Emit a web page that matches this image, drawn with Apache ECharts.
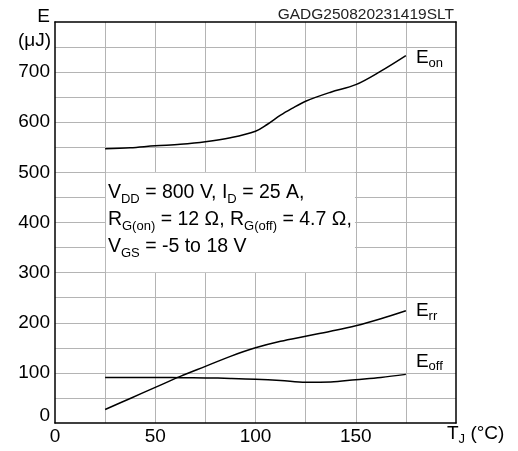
<!DOCTYPE html>
<html>
<head>
<meta charset="utf-8">
<script src="https://cdn.jsdelivr.net/npm/echarts@6/dist/echarts.min.js"></script>
<style>
html,body{margin:0;padding:0;background:#fff;}
#chart{width:518px;height:451px;}
</style>
</head>
<body>
<div id="chart"></div>
<script>
// ---- data ----
const tempsOn = [25, 37.5, 50, 62.5, 75, 87.5, 100, 106, 112.5, 118, 125, 137.5, 150, 162.5, 175];
const eOn     = [547, 549, 553, 556, 561, 569, 582, 596, 614, 627, 642, 660, 675, 702, 733];
const temps   = [25, 37.5, 50, 62.5, 75, 87.5, 100, 112.5, 125, 137.5, 150, 162.5, 175];
const eRr     = [27, 49, 71, 93, 113, 133, 150, 163, 173, 183, 194, 208, 224];
const eOff    = [91, 91, 91, 90.5, 90, 89, 87.5, 85, 81.5, 82, 86.5, 91, 97];
const xTicks  = [0, 50, 100, 150];
const yTicks  = [0, 100, 200, 300, 400, 500, 600, 700];
const noteBox = [[25, 500], [150, 300]];
const code    = 'GADG250820231419SLT';

const FONT = 'Liberation Sans, Arial, sans-serif';
const pair = (xs, ys) => xs.map((x, i) => [x, ys[i]]);

const chart = echarts.init(document.getElementById('chart'), null, {renderer: 'canvas'});

const subRich = {
  e: {fontSize: 19, fontFamily: FONT, color: '#000', lineHeight: 24},
  s: {fontSize: 13, fontFamily: FONT, color: '#000', verticalAlign: 'bottom', lineHeight: 14}
};

const boxRich = {
  m: {fontSize: 19.5, fontFamily: FONT, color: '#000', lineHeight: 27},
  s: {fontSize: 13, fontFamily: FONT, color: '#000', verticalAlign: 'bottom', lineHeight: 14}
};

const lineSeries = (name, data, sub, off) => ({
  name, type: 'line', data, smooth: 0.35, symbol: 'none',
  lineStyle: {color: '#000', width: 1.5},
  itemStyle: {color: '#000'},
  endLabel: {
    show: true, distance: 10, offset: off,
    formatter: '{e|E}{s|' + sub + '}', rich: subRich
  },
  z: 5
});

const option = {
  animation: false,
  backgroundColor: '#fff',
  grid: {left: 55, top: 22, right: 62, bottom: 28, containLabel: false},
  xAxis: [{
    type: 'value', min: 0, max: 200, interval: 25,
    axisLine: {show: true, onZero: false, lineStyle: {color: '#000', width: 1.5}},
    axisTick: {show: false},
    splitLine: {show: true, showMinLine: false, showMaxLine: false, lineStyle: {color: '#b4b4b4', width: 1}},
    axisLabel: {
      margin: 4, fontSize: 19, fontFamily: FONT, color: '#000',
      formatter: v => xTicks.includes(v) ? String(v) : ''
    }
  }, {
    type: 'value', position: 'top', min: 0, max: 200,
    axisLine: {show: true, onZero: false, lineStyle: {color: '#000', width: 1.5}},
    axisTick: {show: false}, axisLabel: {show: false}, splitLine: {show: false}
  }],
  yAxis: [{
    type: 'value', min: 0, max: 800, interval: 50,
    axisLine: {show: true, onZero: false, lineStyle: {color: '#000', width: 1.5}},
    axisTick: {show: false},
    splitLine: {show: true, showMinLine: false, showMaxLine: false, lineStyle: {color: '#b4b4b4', width: 1}},
    axisLabel: {
      margin: 5, fontSize: 19, fontFamily: FONT, color: '#000',
      formatter: v => yTicks.includes(v) ? (v === 0 ? '{z|0}' : String(v)) : '',
      rich: {z: {fontSize: 19, fontFamily: FONT, color: '#000', padding: [0, 0, 14, 0]}}
    }
  }, {
    type: 'value', position: 'right', min: 0, max: 800,
    axisLine: {show: true, onZero: false, lineStyle: {color: '#000', width: 1.5}},
    axisTick: {show: false}, axisLabel: {show: false}, splitLine: {show: false}
  }],
  series: [
    Object.assign(lineSeries('Eon', pair(tempsOn, eOn), 'on', [0, 2]), {
      markArea: {
        silent: true,
        itemStyle: {color: '#fff', borderWidth: 0},
        label: {
          show: true, position: 'insideTopLeft', distance: 0,
          padding: [6, 0, 0, 2],
          formatter: [
            '{m|V}{s|DD}{m| = 800 V, I}{s|D}{m| = 25 A,}',
            '{m|R}{s|G(on)}{m| = 12 Ω, R}{s|G(off)}{m| = 4.7 Ω,}',
            '{m|V}{s|GS}{m| = -5 to 18 V}'
          ].join('\n'),
          rich: boxRich
        },
        data: [[
          {coord: [noteBox[0][0] + 0.4, noteBox[0][1] - 0.8]},
          {coord: [noteBox[1][0] - 0.4, noteBox[1][1] + 0.8]}
        ]]
      }
    }),
    lineSeries('Err', pair(temps, eRr), 'rr', [0, 0]),
    lineSeries('Eoff', pair(temps, eOff), 'off', [0, -13])
  ],
  graphic: [
    {type: 'text', right: 518 - 454, top: 7,
     style: {text: code, fontSize: 15.5, fontFamily: FONT, fill: '#222'}},
    {type: 'text', x: 50, y: 26,
     style: {text: 'E', fontSize: 19, fontFamily: FONT, fill: '#000', align: 'right', verticalAlign: 'bottom'}},
    {type: 'text', x: 51, y: 40.5,
     style: {text: '(μJ)', fontSize: 19, fontFamily: FONT, fill: '#000', align: 'right', verticalAlign: 'middle'}},
    {type: 'text', x: 447, y: 434,
     style: {text: '{e|T}{s|J}{e| (°C)}', align: 'left', verticalAlign: 'middle',
             rich: {
               e: {fontSize: 19, fontFamily: FONT, fill: '#000', lineHeight: 24},
               s: {fontSize: 13, fontFamily: FONT, fill: '#000', verticalAlign: 'bottom', lineHeight: 14}
             }}}
  ]
};

chart.setOption(option);
</script>
</body>
</html>
